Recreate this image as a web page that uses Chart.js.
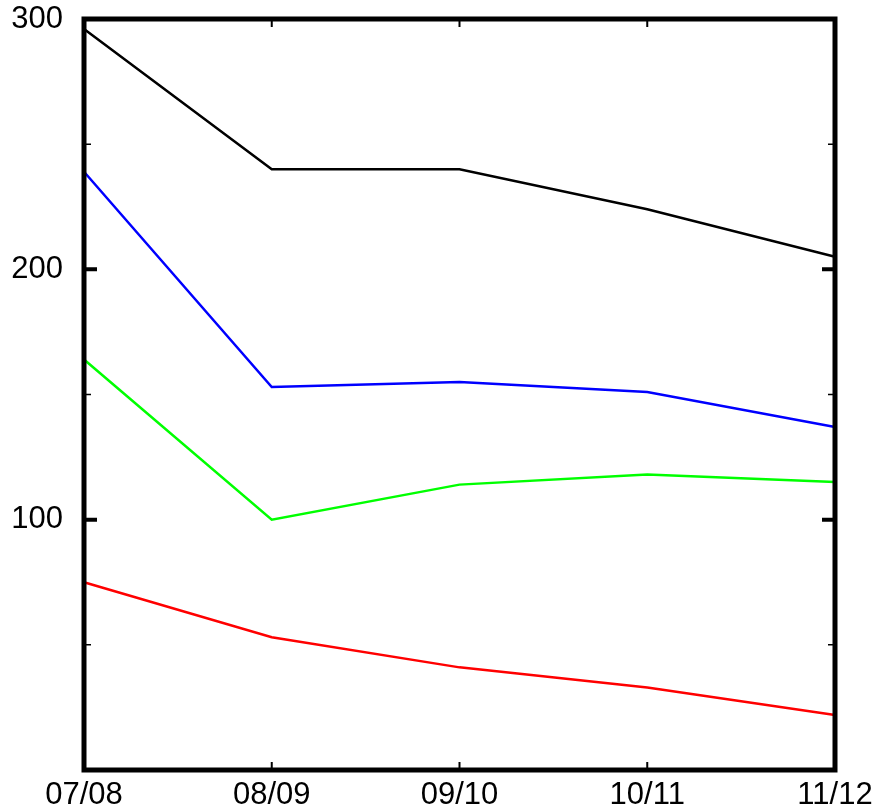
<!DOCTYPE html>
<html>
<head>
<meta charset="utf-8">
<script src="https://cdn.jsdelivr.net/npm/chart.js@4"></script>
<style>
  html, body { margin: 0; padding: 0; background: #ffffff; }
  #wrap { position: relative; width: 884px; height: 811px; }
</style>
</head>
<body>
<div id="wrap"><canvas id="chart" width="884" height="811"></canvas></div>
<script>
// Seasons along the x axis
const seasons = ['07/08', '08/09', '09/10', '10/11', '11/12'];

// Series values per season
const blackSeries = [296, 240, 240, 224, 205];
const blueSeries  = [239, 153, 155, 151, 137];
const greenSeries = [164, 100, 114, 118, 115];
const redSeries   = [75, 53, 41, 33, 22];

// Y axis: labelled values and unlabelled minor ticks
const yLabelled = [100, 200, 300];
const yMinor = [50, 150, 250];
const yMin = 0;
const yMax = 300;

const FONT = { family: '"Liberation Sans", Arial, sans-serif', size: 31 };

// Heavy frame with inward tick marks on all four sides
const framePlugin = {
  id: 'frame',
  afterDatasetsDraw(chart) {
    const { ctx, chartArea: a, scales } = chart;
    const ys = scales.y, xs = scales.x;
    ctx.save();
    ctx.strokeStyle = '#000';
    ctx.lineCap = 'butt';

    // major y ticks
    ctx.lineWidth = 4;
    yLabelled.forEach(v => {
      const p = ys.getPixelForValue(v);
      ctx.beginPath();
      ctx.moveTo(a.left, p); ctx.lineTo(a.left + 13, p);
      ctx.moveTo(a.right, p); ctx.lineTo(a.right - 13, p);
      ctx.stroke();
    });
    // minor y ticks
    ctx.lineWidth = 1.5;
    yMinor.forEach(v => {
      const p = ys.getPixelForValue(v);
      ctx.beginPath();
      ctx.moveTo(a.left, p); ctx.lineTo(a.left + 7, p);
      ctx.moveTo(a.right, p); ctx.lineTo(a.right - 7, p);
      ctx.stroke();
    });
    // x ticks at each season
    ctx.lineWidth = 2;
    seasons.forEach((s, i) => {
      const p = xs.getPixelForValue(i);
      ctx.beginPath();
      ctx.moveTo(p, a.top); ctx.lineTo(p, a.top + 8);
      ctx.moveTo(p, a.bottom); ctx.lineTo(p, a.bottom - 8);
      ctx.stroke();
    });
    // frame
    ctx.lineWidth = 5;
    ctx.lineJoin = 'miter';
    ctx.strokeRect(a.left, a.top, a.right - a.left, a.bottom - a.top);
    ctx.restore();
  }
};

function series(data, color) {
  return {
    data,
    borderColor: color,
    backgroundColor: color,
    borderWidth: 2.5,
    pointRadius: 0,
    pointHoverRadius: 0,
    tension: 0,
    fill: false
  };
}

new Chart(document.getElementById('chart'), {
  type: 'line',
  data: {
    labels: seasons,
    datasets: [
      series(blackSeries, '#000000'),
      series(blueSeries, '#0000ff'),
      series(greenSeries, '#00ff00'),
      series(redSeries, '#ff0000')
    ]
  },
  options: {
    responsive: false,
    animation: false,
    devicePixelRatio: 1,
    layout: { padding: { left: 0, right: 49, top: 19, bottom: 0 } },
    plugins: { legend: { display: false }, tooltip: { enabled: false } },
    scales: {
      x: {
        offset: false,
        grid: { display: false, drawTicks: false },
        border: { display: false },
        ticks: { color: '#000', font: FONT, padding: 7, maxRotation: 0, autoSkip: false },
        afterFit(scale) {
          scale.height = 41;
          scale.paddingLeft = 0;
          scale.paddingRight = 0;
        }
      },
      y: {
        min: yMin,
        max: yMax,
        grid: { display: false, drawTicks: false },
        border: { display: false },
        ticks: {
          color: '#000',
          font: FONT,
          padding: 21,
          stepSize: 100,
          callback: v => (yLabelled.includes(v) ? String(v) : '')
        },
        afterFit(scale) {
          scale.width = 84;
          scale.paddingTop = 0;
          scale.paddingBottom = 0;
        }
      }
    }
  },
  plugins: [framePlugin]
});
</script>
</body>
</html>
